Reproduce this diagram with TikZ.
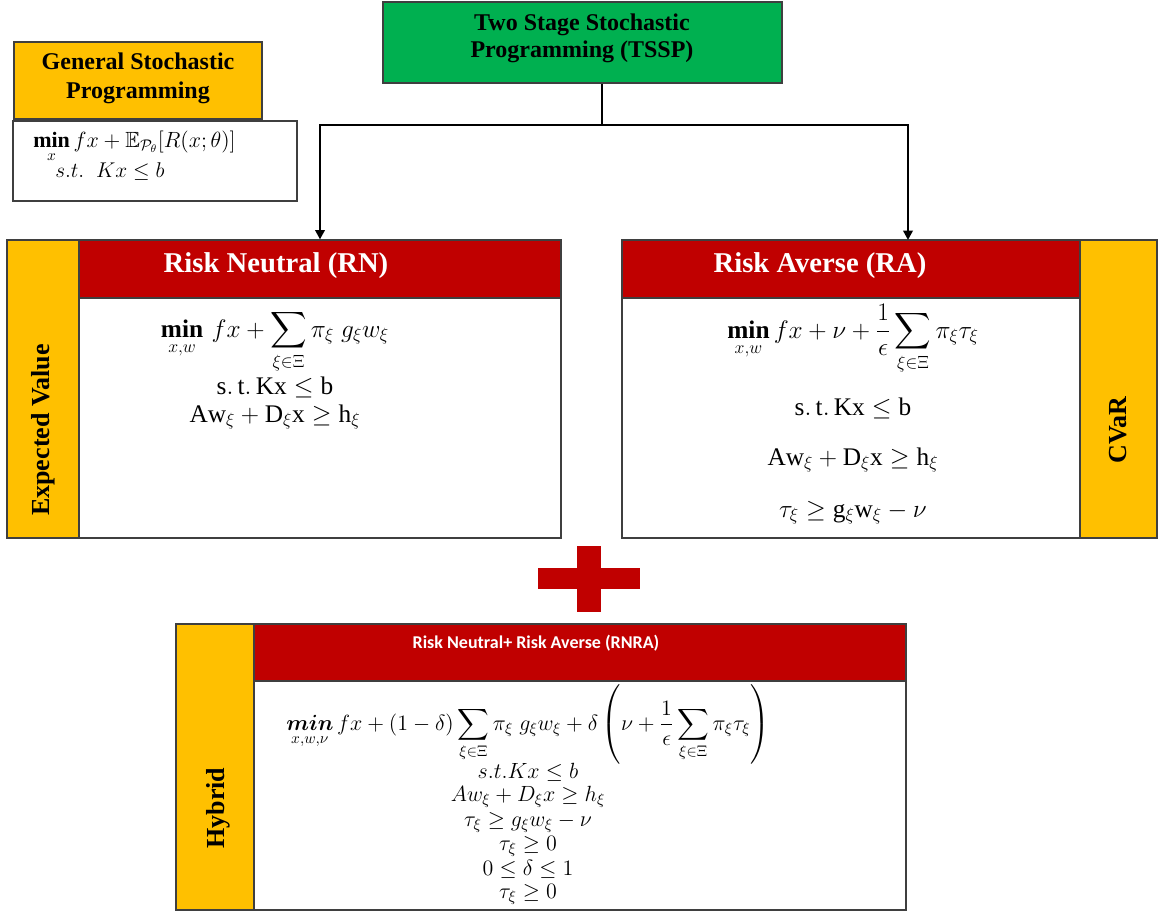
\RequirePackage{fix-cm}
\documentclass[tikz,border=0pt]{standalone}
\usepackage{amsmath,amssymb}
\usepackage{fontspec}
\setmainfont{Liberation Serif}
\newfontfamily\headsans{Carlito}
\usetikzlibrary{arrows.meta,fit}

\definecolor{gsorange}{HTML}{FFC000}
\definecolor{gsred}{HTML}{C00000}
\definecolor{gsgreen}{HTML}{00B050}
\definecolor{edgegray}{HTML}{3F3F3F}

\begin{document}
\begin{tikzpicture}[x=0.75pt,y=-0.75pt,
  panel/.style={draw=edgegray,line width=0.9pt,inner sep=0pt},
  sidebar/.style={panel,fill=gsorange},
  headbar/.style={panel,fill=gsred},
  bodybox/.style={panel,fill=white},
  titletxt/.style={font=\bfseries\fontsize{18}{21}\selectfont,align=center,inner sep=0pt},
  headtxt/.style={font=\bfseries\fontsize{21.5}{24}\selectfont,text=white,inner sep=0pt},
  sidetxt/.style={font=\bfseries\fontsize{19.5}{22}\selectfont,rotate=90,inner sep=0pt},
  eqn/.style={anchor=base,inner sep=0pt},
  bigeq/.style={eqn,font=\fontsize{19}{22}\selectfont},
  smalleq/.style={eqn,font=\fontsize{16.5}{19}\selectfont},
  conn/.style={line width=2.2pt,black},
  arr/.style={conn,-{Triangle[length=7pt,width=7pt]}}
]
\useasboundingbox (0,0) rectangle (1164,911);

% ---- general stochastic programming ----
\node[sidebar,fit={(14,42)(262,119)}] (gsp) {};
\node[titletxt,font=\bfseries\fontsize{18}{22}\selectfont] (gsptxt) at (138,78) {General Stochastic\\Programming};
\node[bodybox,fit={(13,121)(297,201)}] (gspbody) {};
\node[eqn,anchor=base west,font=\fontsize{16.5}{19}\selectfont] (gspf1) at (33,147)
  {$\mathop{\mathbf{min}}\limits_{x} fx+\mathbb{E}_{\mathcal{P}_{\theta}}[R(x;\theta)]$};
\node[eqn,anchor=base west,font=\fontsize{16}{19}\selectfont] (gspf2) at (55,177)
  {$s.t.\;\; Kx\leq b$};

% ---- two stage stochastic programming ----
\node[panel,fill=gsgreen,fit={(383,2)(782,83)}] (tssp) {};
\node[titletxt,font=\bfseries\fontsize{18}{20.5}\selectfont] (tssptxt) at (582,38) {Two Stage Stochastic\\Programming (TSSP)};

% ---- risk neutral ----
\node[bodybox,fit={(79,298)(561,538)}] (rnbody) {};
\node[headbar,fit={(79,240)(561,298)}] (rnhead) {};
\node[sidebar,fit={(7,240)(79,538)}] (rnside) {};
\node[headtxt] (rnheadtxt) at (276,266) {Risk Neutral (RN)};
\node[sidetxt] (rnsidetxt) at (43,430) {Expected Value};
\node[bigeq] (rnf1) at (275,337)
  {$\displaystyle\mathop{\mathbf{min}}\limits_{x,w}\, fx+\sum_{\xi\in\Xi}\pi_{\xi}\;g_{\xi}w_{\xi}$};
\node[bigeq] (rnf2) at (275,394) {$\mathrm{s.\,t.\,Kx}\leq\mathrm{b}$};
\node[bigeq] (rnf3) at (275,422) {$\mathrm{Aw}_{\xi}+\mathrm{D}_{\xi}\mathrm{x}\geq\mathrm{h}_{\xi}$};

% ---- risk averse ----
\node[bodybox,fit={(622,298)(1080,538)}] (rabody) {};
\node[headbar,fit={(622,240)(1080,298)}] (rahead) {};
\node[sidebar,fit={(1080,240)(1157,538)}] (raside) {};
\node[headtxt] (raheadtxt) at (820,266) {Risk Averse (RA)};
\node[sidetxt] (rasidetxt) at (1118,430) {CVaR};
\node[bigeq] (raf1) at (853,338)
  {$\displaystyle\mathop{\mathbf{min}}\limits_{x,w} fx+\nu+\frac{1}{\epsilon}\sum_{\xi\in\Xi}\pi_{\xi}\tau_{\xi}$};
\node[bigeq] (raf2) at (853,415) {$\mathrm{s.\,t.\,Kx}\leq\mathrm{b}$};
\node[bigeq] (raf3) at (853,465) {$\mathrm{Aw}_{\xi}+\mathrm{D}_{\xi}\mathrm{x}\geq\mathrm{h}_{\xi}$};
\node[bigeq] (raf4) at (853,517) {$\tau_{\xi}\geq\mathrm{g}_{\xi}\mathrm{w}_{\xi}-\nu$};

% ---- connectors from the two stage box ----
\coordinate (junc) at (602,125);
\coordinate (raend) at (908,240);
\draw[conn] (tssp.south -| junc) -- (junc);
\draw[arr] (junc) -| (rnhead.north);
\draw[arr] (junc) -| (raend);

% ---- plus sign ----
\fill[gsred] (538,568) rectangle (640,589);
\fill[gsred] (577,546) rectangle (601,612);

% ---- hybrid ----
\node[bodybox,fit={(254,681)(906,910)}] (hybody) {};
\node[headbar,fit={(254,624)(906,681)}] (hyhead) {};
\node[sidebar,fit={(176,624)(254,910)}] (hyside) {};
\node[inner sep=0pt,text=white,font=\headsans\bfseries\fontsize{13.5}{16}\selectfont] (hyheadtxt) at (536,643) {Risk Neutral+ Risk Averse (RNRA)};
\node[sidetxt] (hysidetxt) at (218,808) {Hybrid};
\node[smalleq] (hyf1) at (528,730)
  {$\displaystyle\mathop{\boldsymbol{min}}\limits_{x,w,\nu} fx+(1-\delta)\sum_{\xi\in\Xi}\pi_{\xi}\;g_{\xi}w_{\xi}+\delta\left(\nu+\frac{1}{\epsilon}\sum_{\xi\in\Xi}\pi_{\xi}\tau_{\xi}\right)$};
\node[smalleq] (hyf2) at (528,778) {$s.t.Kx\leq b$};
\node[smalleq] (hyf3) at (528,801) {$Aw_{\xi}+D_{\xi}x\geq h_{\xi}$};
\node[smalleq] (hyf4) at (528,826) {$\tau_{\xi}\geq g_{\xi}w_{\xi}-\nu$};
\node[smalleq] (hyf5) at (528,850) {$\tau_{\xi}\geq 0$};
\node[smalleq] (hyf6) at (528,875) {$0\leq\delta\leq 1$};
\node[smalleq] (hyf7) at (528,898) {$\tau_{\xi}\geq 0$};
\end{tikzpicture}
\end{document}
